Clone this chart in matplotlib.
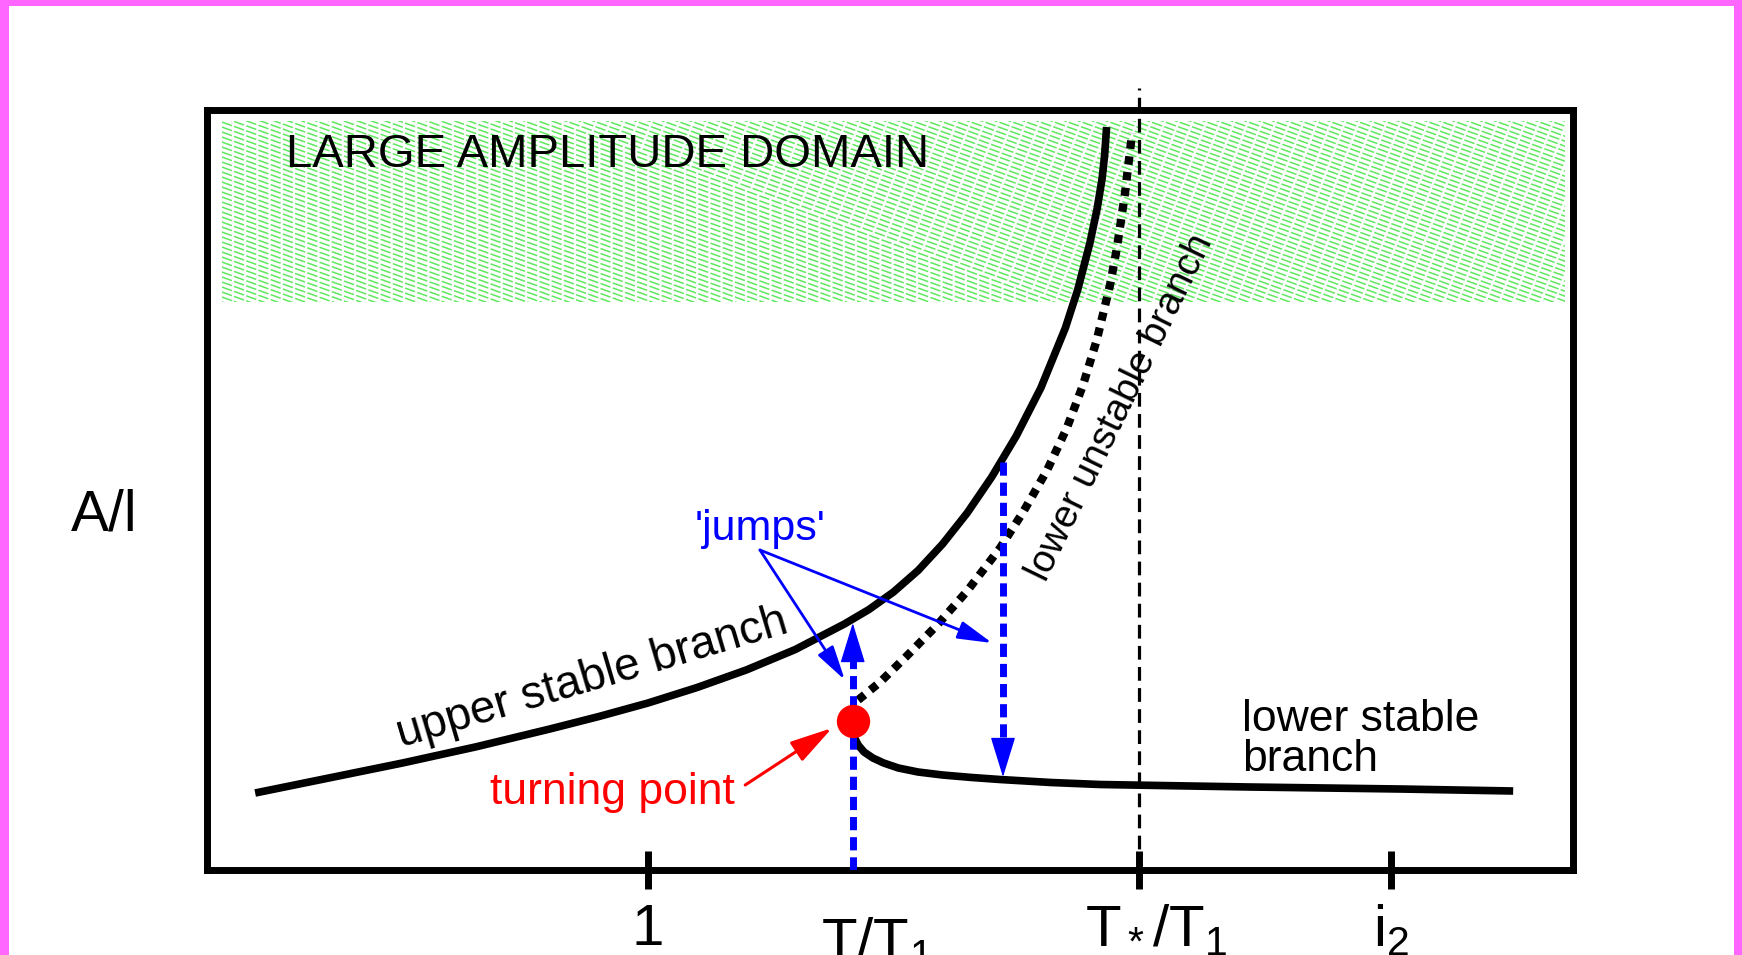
import numpy as np
import matplotlib
matplotlib.use('Agg')
import matplotlib.pyplot as plt
from matplotlib.patches import Rectangle
from matplotlib.collections import LineCollection
from matplotlib.transforms import ScaledTranslation

plt.rcParams['font.family'] = ['Liberation Sans', 'DejaVu Sans']
plt.rcParams['mathtext.fontset'] = 'custom'
plt.rcParams['mathtext.rm'] = 'Liberation Sans'
plt.rcParams['mathtext.it'] = 'Liberation Sans:italic'

# x: period ratio T/T1, y: amplitude A/l (schematic units)
upper_x = [0.20, 0.35, 0.50, 0.65, 0.80, 0.90, 1.00, 1.10, 1.20, 1.30, 1.40, 1.45,
           1.50, 1.55, 1.60, 1.65, 1.70, 1.75, 1.80, 1.85, 1.875, 1.90, 1.915,
           1.925, 1.930, 1.934]
upper_y = [0.77, 0.92, 1.07, 1.232, 1.41, 1.535, 1.67, 1.825, 2.00, 2.205, 2.46, 2.605,
           2.78, 2.995, 3.26, 3.57, 3.93, 4.34, 4.82, 5.42, 5.80, 6.27, 6.62,
           6.92, 7.15, 7.43]

unstable_x = [1.428, 1.473, 1.527, 1.589, 1.650, 1.717, 1.764, 1.813, 1.853,
              1.886, 1.914, 1.941, 1.955, 1.971, 1.986]
unstable_y = [1.70, 1.88, 2.14, 2.45, 2.79, 3.22, 3.58, 4.00, 4.42,
              4.85, 5.30, 5.85, 6.22, 6.75, 7.37]

lower_x = [1.418, 1.428, 1.440, 1.458, 1.480, 1.510, 1.550, 1.600, 1.660, 1.717,
           1.821, 1.921, 2.226, 2.532, 2.762]
lower_y = [1.35, 1.25, 1.18, 1.12, 1.07, 1.02, 0.98, 0.95, 0.925, 0.905,
           0.875, 0.855, 0.83, 0.81, 0.79]

turn_x, turn_y = 1.417, 1.49
t_star = 2.0
i_2 = 2.513

tick_pos = [1.0, t_star, i_2]
tick_labels = ['1', r'$\mathrm{T_*/T_1}$', r'$\mathrm{i_2}$']

# band of the large amplitude domain
band_y = (5.68, 7.49)
band_x = (0.132, 2.868)

# jumps: (x, start, tip)
jump_up = (turn_x, 0.0, 2.47)
jump_down = (1.723, 4.08, 0.93)
jumps_label = (1.228, 3.20)
jumps_tips = [(1.401, 1.90), (1.701, 2.27)]

fig = plt.figure(figsize=(17.42, 9.55), dpi=100)
fig.patch.set_facecolor('white')

# magenta slide border
for r in [(0, 0.9937, 1, 0.0063), (0, 0, 0.0052, 1), (0.9954, 0, 0.0046, 1)]:
    fig.add_artist(Rectangle(r[:2], r[2], r[3], transform=fig.transFigure,
                             facecolor='#ff66ff', edgecolor='none'))

ax = fig.add_axes([0.1188, 0.0890, 0.7842, 0.7953])
ax.set_xlim(0.1018, 2.8839)
ax.set_ylim(0, 7.595)

# hatched green band
band = Rectangle((band_x[0], band_y[0]), band_x[1] - band_x[0], band_y[1] - band_y[0],
                 facecolor='none', edgecolor='none')
ax.add_patch(band)
slope = -1.77
w = band_x[1] - band_x[0]
offs = np.arange(band_y[0], band_y[1] - slope * w + 0.05, 0.05)
segs = [[(band_x[0], c), (band_x[1], c + slope * w)] for c in offs]
lc = LineCollection(segs, colors='#5fe85f', linewidths=1.1, linestyles=[(0, (7, 1.5))], zorder=0)
ax.add_collection(lc)
lc.set_clip_path(band)

ax.text(0.263, 7.15, 'LARGE AMPLITUDE DOMAIN', fontsize=34, ha='left', va='center')

# branches
ax.plot(upper_x, upper_y, color='black', lw=5.5, solid_capstyle='butt', solid_joinstyle='round')
ax.plot(unstable_x, unstable_y, color='black', lw=6, linestyle=(0, (1, 0.9)), dash_capstyle='butt')
ax.plot(lower_x, lower_y, color='black', lw=5.5, solid_capstyle='butt', solid_joinstyle='round')
ax.plot([t_star, t_star], [0, 7.82], color='black', lw=2.3, linestyle=(0, (4.3, 2.3)), clip_on=False)

# jumps between branches
for x, y0, y1 in [jump_up, jump_down]:
    head = 0.37 if y1 > y0 else -0.37
    ax.plot([x, x], [y0, y1 - head], color='blue', lw=5, linestyle=(0, (1.9, 1.0)),
            dash_capstyle='butt', zorder=3)
    ax.annotate('', xy=(x, y1), xytext=(x, y1 - head),
                arrowprops=dict(arrowstyle='-|>,head_length=26,head_width=8', mutation_scale=1,
                                color='blue', lw=1, shrinkA=0, shrinkB=0), zorder=3)

ax.plot(turn_x, turn_y, 'o', color='red', mec='red', ms=23, zorder=4)

ax.text(jumps_label[0], 3.30, "'jumps'", color='blue', fontsize=31, ha='center', va='baseline')
for tip in jumps_tips:
    ax.annotate('', xy=tip, xytext=jumps_label,
                arrowprops=dict(arrowstyle='-|>,head_length=21,head_width=5.5', mutation_scale=1,
                                color='blue', lw=2, shrinkA=0, shrinkB=0))

ax.text(0.927, 0.66, 'turning point', color='red', fontsize=32, ha='center', va='baseline')
ax.annotate('', xy=(1.375, 1.42), xytext=(1.198, 0.85),
            arrowprops=dict(arrowstyle='-|>,head_length=26,head_width=7', mutation_scale=1,
                            color='red', lw=2.2, shrinkA=0, shrinkB=0))

ax.text(0.886, 1.92, 'upper stable branch', fontsize=33, rotation=16.5,
        ha='center', va='center', rotation_mode='anchor')
ax.text(1.963, 4.62, 'lower unstable branch', fontsize=28, rotation=64,
        ha='center', va='center', rotation_mode='anchor')
ax.text(2.210, 1.39, 'lower stable', fontsize=32, ha='left', va='baseline')
ax.text(2.210, 0.99, 'branch', fontsize=32, ha='left', va='baseline')

ax.text(-0.108, 3.39, 'A/l', fontsize=41, ha='center', va='baseline')
ax.text(1.466, -0.46, r'$\mathrm{T/T_1}$', fontsize=42, ha='center', va='top')

for s in ax.spines.values():
    s.set_linewidth(5)
    s.set_color('black')
ax.set_xticks(tick_pos, tick_labels)
ax.set_yticks([])
ax.tick_params(axis='x', direction='inout', length=27, width=5, pad=10, labelsize=42)
star_label = ax.get_xticklabels()[1]
star_label.set_transform(star_label.get_transform() + ScaledTranslation(0.17, 0, fig.dpi_scale_trans))

fig.savefig('out.png', dpi=100)
